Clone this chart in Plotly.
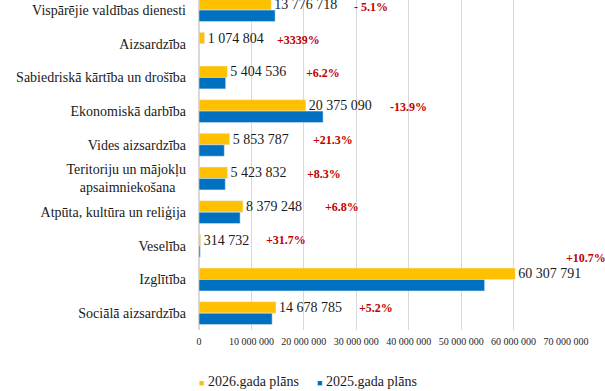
import plotly.graph_objects as go

categories = [
    "Vispārējie valdības dienesti",
    "Aizsardzība",
    "Sabiedriskā kārtība un drošība",
    "Ekonomiskā darbība",
    "Vides aizsardzība",
    "Teritoriju un mājokļu<br>apsaimniekošana\u00a0\u00a0\u00a0",
    "Atpūta, kultūra un reliģija",
    "Veselība",
    "Izglītība",
    "Sociālā aizsardzība",
]
plan_2026 = [13776718, 1074804, 5404536, 20375090, 5853787, 5423832, 8379248, 314732, 60307791, 14678785]
plan_2025 = [14517000, 31000, 5089000, 23664000, 4826000, 5008000, 7846000, 239000, 54478000, 13953000]
change_labels = ["- 5.1%", "+3339%", "+6.2%", "-13.9%", "+21.3%", "+8.3%", "+6.8%", "+31.7%", "+10.7%", "+5.2%"]
series_names = ["2026.gada plāns", "2025.gada plāns"]
series_colors = ["#FFC000", "#0070C0"]
tick_values = [0, 10000000, 20000000, 30000000, 40000000, 50000000, 60000000, 70000000]

# label placement (layout only)
label_x = [29.1e6, 14.5e6, 20.0e6, 36.0e6, 21.3e6, 20.2e6, 23.6e6, 12.4e6, 69.7e6, 30.2e6]
label_yshift = [3, 4, 4.5, 4.5, 4.5, 4.5, 5, 6, 21, 5.5]
legend_x = [-0.006, 0.316]

SERIF = "Liberation Serif"

fig = go.Figure()
fig.add_trace(go.Bar(
    y=categories, x=plan_2026, orientation="h", name=series_names[0],
    marker=dict(color=series_colors[0]),
    texttemplate="%{x:,d}", textposition="outside", constraintext="none",
    textfont=dict(family=SERIF, size=14, color="#1a1a1a"), cliponaxis=False,
    showlegend=False,
))
fig.add_trace(go.Bar(
    y=categories, x=plan_2025, orientation="h", name=series_names[1],
    marker=dict(color=series_colors[1]), cliponaxis=False, showlegend=False,
))

for cat, lab, lx, ys in zip(categories, change_labels, label_x, label_yshift):
    fig.add_annotation(
        x=lx, y=cat, text=lab, showarrow=False, xanchor="left", yanchor="middle",
        yshift=ys, font=dict(family=SERIF, size=12, color="#C00000", weight="bold"),
    )

# legend drawn as text entries
for name, col, lx in zip(series_names, series_colors, legend_x):
    fig.add_annotation(
        xref="paper", yref="paper", x=lx, y=-0.157, xanchor="left", yanchor="middle",
        text=f"<span style='color:{col};font-size:9px'>■</span> {name}",
        showarrow=False, font=dict(family=SERIF, size=14, color="#1a1a1a"),
    )

fig.update_layout(
    width=605, height=391,
    margin=dict(l=199, r=39, t=0, b=61),
    paper_bgcolor="white", plot_bgcolor="white",
    barmode="group", bargap=0.32, bargroupgap=0,
    separators=". ",
    showlegend=False,
    font=dict(family=SERIF, color="#1a1a1a"),
)
fig.update_xaxes(
    range=[0, 70000000], tickvals=tick_values, tickformat=",d",
    showgrid=True, gridcolor="#D9D9D9", gridwidth=1, zeroline=True, zerolinecolor="#D9D9D9",
    showline=False, ticks="", ticklabelstandoff=4,
    tickfont=dict(family=SERIF, size=10, color="#262626"),
)
fig.update_yaxes(
    type="category", categoryorder="array", categoryarray=categories,
    range=[9.5, -0.30], showgrid=False, showline=False, ticks="",
    ticklabelstandoff=12, tickfont=dict(family=SERIF, size=14, color="#1a1a1a"),
)

fig.write_html("out.html", config={"displayModeBar": False},
               post_script="document.body.style.margin='0';")
